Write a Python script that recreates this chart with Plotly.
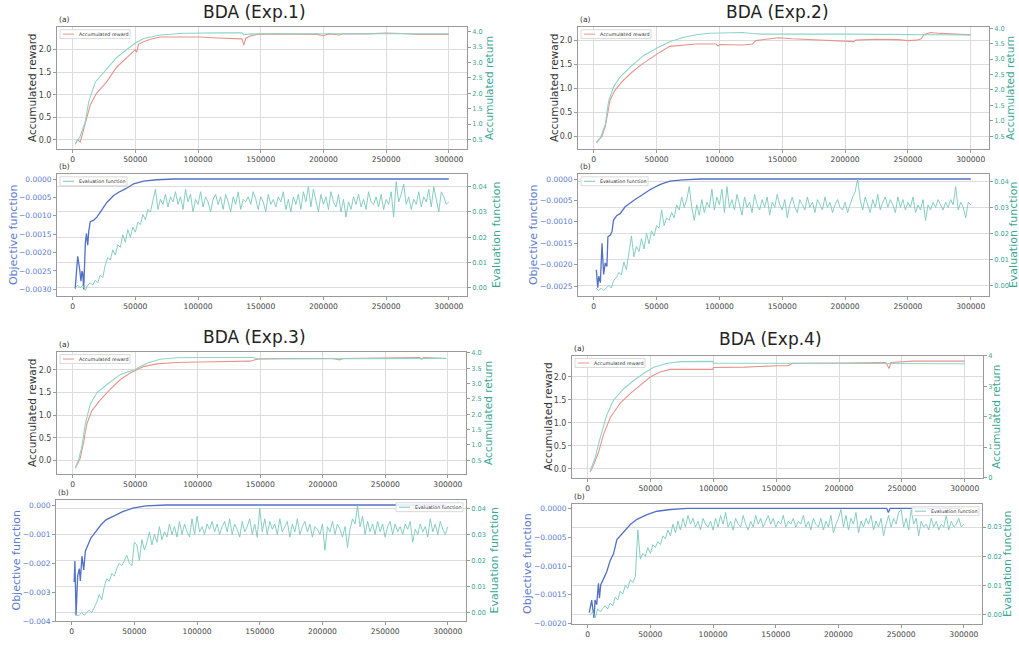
import plotly.graph_objects as go

# ---------------- data ----------------
steps = list(range(2000, 300001, 2000))
x_ticks = [0, 50000, 100000, 150000, 200000, 250000, 300000]

# Exp.1
e1_reward_x = [2000, 4000, 6000, 9000, 14000, 19000, 27000, 35000, 43000, 50000, 51000, 52600, 56000, 62000, 70000, 85000,
               102000, 115000, 128000, 135000, 136500, 138000, 141000, 147000, 160000, 180000, 195000, 200000, 204000,
               210000, 212000, 215000, 235000, 250000, 255000, 262000, 275000, 290000, 300000]
e1_reward_y = [-0.10, 0.0, -0.05, 0.26, 0.77, 1.03, 1.28, 1.61, 1.83, 2.00, 1.94, 2.12, 2.17, 2.23, 2.28, 2.28,
               2.28, 2.26, 2.24, 2.24, 2.10, 2.25, 2.30, 2.34, 2.35, 2.35, 2.34, 2.31, 2.35,
               2.34, 2.32, 2.35, 2.35, 2.37, 2.37, 2.36, 2.34, 2.35, 2.34]
e1_return_x = [2000, 6000, 10100, 12800, 18100, 27400, 35400, 43400, 50000, 56600, 70000, 88600, 100000, 120000,
               135000, 136500, 140000, 150000, 200000, 250000, 300000]
e1_return_y = [0.36, 0.61, 1.09, 1.73, 2.37, 2.80, 3.17, 3.43, 3.63, 3.78, 3.89, 3.95, 3.96, 3.96,
               3.96, 3.90, 3.92, 3.93, 3.93, 3.94, 3.93]
e1_obj_x = [2000, 4000, 5600, 6600, 7400, 8000, 8800, 10100, 11000, 12000, 12800, 14000, 16800, 19400, 22000, 24700,
            27400, 32700, 36700, 42000, 48700, 56600, 67300, 80600, 300000]
e1_obj_y = [-0.00298, -0.0021, -0.00246, -0.00278, -0.0025, -0.00255, -0.0030, -0.00175, -0.00148, -0.0018, -0.00143,
            -0.00116, -0.00112, -0.00103, -0.0009, -0.00076, -0.00063, -0.00045, -0.00036, -0.00027, -0.00013,
            -0.00006, -0.00002, 0.0, 0.0]
e1_eval = [0.000, 0.001, 0.000, 0.001, -0.001, 0.001, 0.002, 0.001, 0.003, 0.002,
           0.005, 0.004, 0.009, 0.012, 0.011, 0.015, 0.013, 0.017, 0.016, 0.021,
           0.018, 0.023, 0.020, 0.024, 0.022, 0.026, 0.025, 0.029, 0.027, 0.031,
           0.030, 0.034, 0.039, 0.031, 0.035, 0.033, 0.037, 0.032, 0.036, 0.034,
           0.038, 0.033, 0.036, 0.031, 0.039, 0.034, 0.037, 0.030, 0.035, 0.033,
           0.038, 0.032, 0.036, 0.034, 0.030, 0.035, 0.037, 0.033, 0.036, 0.031,
           0.037, 0.034, 0.030, 0.036, 0.033, 0.038, 0.031, 0.035, 0.034, 0.036,
           0.033, 0.038, 0.035, 0.031, 0.036, 0.034, 0.030, 0.037, 0.033, 0.035,
           0.032, 0.036, 0.034, 0.038, 0.031, 0.035, 0.030, 0.036, 0.033, 0.037,
           0.031, 0.038, 0.034, 0.040, 0.032, 0.039, 0.035, 0.030, 0.037, 0.033,
           0.036, 0.031, 0.038, 0.034, 0.032, 0.037, 0.030, 0.035, 0.028, 0.034,
           0.031, 0.036, 0.033, 0.037, 0.032, 0.035, 0.031, 0.038, 0.034, 0.033,
           0.036, 0.032, 0.037, 0.031, 0.035, 0.033, 0.038, 0.028, 0.042, 0.034,
           0.037, 0.041, 0.033, 0.036, 0.031, 0.035, 0.033, 0.038, 0.032, 0.036,
           0.034, 0.039, 0.032, 0.040, 0.035, 0.030, 0.038, 0.036, 0.033, 0.034]

# Exp.2
e2_reward_x = [2100, 4000, 6600, 9200, 11000, 13000, 17000, 22400, 29000, 36800, 44700, 52600, 60500, 71000, 81600,
               97400, 98700, 100500, 108000, 118400, 126300, 129000, 137000, 147000, 158000, 171000, 187000, 207000,
               208500, 224000, 242000, 250000, 256600, 259000, 260500, 263000, 268000, 276000, 288000, 300000]
e2_reward_y = [-0.14, -0.09, 0.0, 0.2, 0.51, 0.75, 0.96, 1.13, 1.30, 1.47, 1.61, 1.75, 1.87, 1.90, 1.92,
               1.92, 1.88, 1.91, 1.90, 1.90, 1.92, 1.99, 2.02, 2.05, 2.03, 2.01, 1.99, 1.97,
               2.0, 2.02, 2.01, 1.99, 2.0, 2.02, 2.03, 2.12, 2.16, 2.14, 2.12, 2.11]
e2_return_x = [2100, 5300, 9200, 11800, 15800, 21000, 29000, 39500, 50000, 60500, 71000, 81600, 92100, 118400,
               126300, 134200, 197400, 260500, 263200, 300000]
e2_return_y = [0.29, 0.45, 0.87, 1.62, 2.10, 2.42, 2.74, 3.11, 3.35, 3.56, 3.70, 3.79, 3.84, 3.86,
               3.83, 3.81, 3.81, 3.80, 3.78, 3.78]
e2_obj_x = [2100, 3200, 4000, 5300, 6600, 7900, 9200, 10500, 11300, 13200, 14500, 15800, 18400, 21000, 25000, 29000,
            32900, 38200, 44700, 52600, 60500, 71000, 85000, 300000]
e2_obj_y = [-0.00212, -0.00254, -0.00227, -0.00242, -0.0015, -0.00223, -0.00196, -0.00204, -0.00135, -0.00131,
            -0.00123, -0.00096, -0.00085, -0.00081, -0.00065, -0.00056, -0.00048, -0.00038, -0.00025, -0.00013,
            -0.00005, -0.00002, 0.0, 0.0]
e2_eval = [-0.001, -0.002, -0.001, -0.002, -0.001, 0.000, -0.001, 0.002, 0.003, 0.005,
           0.004, 0.009, 0.006, 0.012, 0.019, 0.011, 0.015, 0.013, 0.018, 0.014,
           0.020, 0.016, 0.021, 0.019, 0.023, 0.022, 0.029, 0.023, 0.026, 0.025,
           0.028, 0.026, 0.031, 0.029, 0.034, 0.030, 0.033, 0.038, 0.030, 0.025,
           0.031, 0.027, 0.033, 0.028, 0.032, 0.030, 0.037, 0.029, 0.034, 0.031,
           0.037, 0.028, 0.038, 0.030, 0.033, 0.029, 0.035, 0.031, 0.027, 0.034,
           0.030, 0.032, 0.028, 0.035, 0.031, 0.029, 0.033, 0.030, 0.034, 0.027,
           0.032, 0.030, 0.035, 0.031, 0.029, 0.033, 0.026, 0.031, 0.034, 0.030,
           0.028, 0.033, 0.031, 0.029, 0.034, 0.030, 0.032, 0.028, 0.033, 0.031,
           0.029, 0.034, 0.030, 0.032, 0.028, 0.031, 0.033, 0.030, 0.029, 0.032,
           0.028, 0.031, 0.034, 0.036, 0.041, 0.033, 0.029, 0.034, 0.031, 0.028,
           0.033, 0.030, 0.035, 0.029, 0.032, 0.034, 0.030, 0.033, 0.031, 0.028,
           0.034, 0.030, 0.033, 0.029, 0.032, 0.030, 0.034, 0.028, 0.031, 0.029,
           0.033, 0.025, 0.031, 0.029, 0.032, 0.030, 0.033, 0.031, 0.029, 0.032,
           0.030, 0.033, 0.031, 0.038, 0.029, 0.032, 0.030, 0.026, 0.032, 0.031]

# Exp.3
e3_reward_x = [2100, 3500, 6100, 8800, 11400, 15400, 22000, 30000, 38000, 46000, 50000, 56600, 67300, 83200, 101900,
               128500, 141800, 148400, 168400, 208200, 213600, 216000, 234800, 277400, 278700, 280500, 298700]
e3_reward_y = [-0.17, -0.09, 0.05, 0.41, 0.81, 1.10, 1.33, 1.57, 1.78, 1.93, 1.98, 2.07, 2.13, 2.16, 2.17,
               2.19, 2.19, 2.24, 2.25, 2.25, 2.22, 2.25, 2.26, 2.27, 2.23, 2.27, 2.25]
e3_return_x = [2100, 4800, 7400, 10100, 14100, 19400, 27400, 38000, 50000, 59300, 69900, 83200, 101900, 144400,
               148400, 298700]
e3_return_y = [0.26, 0.52, 0.95, 1.69, 2.33, 2.70, 2.97, 3.29, 3.47, 3.66, 3.79, 3.84, 3.85, 3.85, 3.80, 3.82]
e3_obj_x = [2000, 2600, 3500, 4800, 6100, 6900, 8200, 9600, 10900, 12800, 15400, 19400, 23400, 27400, 34000, 40700,
            48700, 59300, 75300, 298700]
e3_obj_y = [-0.00265, -0.00193, -0.0038, -0.00244, -0.00219, -0.00261, -0.00176, -0.00223, -0.00159, -0.00142,
            -0.00113, -0.00091, -0.00068, -0.00051, -0.00036, -0.00023, -0.00011, -0.00003, 0.0, 0.0]
e3_eval = [0.000, -0.001, -0.001, 0.000, -0.001, 0.000, 0.001, 0.000, 0.002, 0.004,
           0.007, 0.005, 0.010, 0.013, 0.012, 0.015, 0.014, 0.017, 0.019, 0.018,
           0.020, 0.022, 0.019, 0.018, 0.027, 0.026, 0.020, 0.028, 0.024, 0.027,
           0.031, 0.026, 0.030, 0.027, 0.033, 0.028, 0.031, 0.029, 0.034, 0.030,
           0.033, 0.029, 0.035, 0.030, 0.034, 0.031, 0.029, 0.036, 0.030, 0.037,
           0.031, 0.033, 0.030, 0.034, 0.032, 0.035, 0.031, 0.034, 0.030, 0.033,
           0.035, 0.031, 0.036, 0.030, 0.034, 0.032, 0.029, 0.035, 0.031, 0.033,
           0.036, 0.030, 0.034, 0.029, 0.040, 0.031, 0.036, 0.030, 0.035, 0.032,
           0.034, 0.030, 0.036, 0.031, 0.033, 0.035, 0.029, 0.034, 0.031, 0.036,
           0.030, 0.033, 0.035, 0.031, 0.034, 0.029, 0.033, 0.032, 0.030, 0.034,
           0.024, 0.033, 0.031, 0.035, 0.030, 0.034, 0.032, 0.029, 0.033, 0.025,
           0.032, 0.036, 0.034, 0.041, 0.033, 0.037, 0.030, 0.035, 0.031, 0.034,
           0.030, 0.035, 0.031, 0.034, 0.029, 0.033, 0.035, 0.030, 0.034, 0.031,
           0.033, 0.030, 0.034, 0.032, 0.035, 0.027, 0.032, 0.030, 0.034, 0.031,
           0.033, 0.029, 0.036, 0.031, 0.034, 0.030, 0.035, 0.032, 0.030, 0.033]

# Exp.4
e4_reward_x = [1900, 4500, 8600, 12600, 17900, 25900, 34000, 42000, 50000, 58000, 66000, 82000, 99500, 100000, 124900,
               151600, 159600, 162300, 178300, 205100, 237200, 239800, 241200, 258600, 300000]
e4_reward_y = [-0.07, 0.07, 0.36, 0.75, 1.11, 1.43, 1.64, 1.82, 2.00, 2.11, 2.16, 2.16, 2.16, 2.20, 2.21,
               2.24, 2.24, 2.29, 2.29, 2.30, 2.31, 2.18, 2.31, 2.34, 2.34]
e4_return_x = [1900, 5900, 9900, 15200, 20600, 28600, 36600, 44700, 52700, 63400, 74100, 87400, 99500, 100000, 151600,
               205000, 300000]
e4_return_y = [0.20, 0.65, 1.30, 2.06, 2.55, 2.92, 3.19, 3.43, 3.63, 3.76, 3.81, 3.82, 3.82, 3.76, 3.75, 3.75, 3.74]
e4_obj_x = [1300, 3200, 4000, 5100, 5900, 7200, 8600, 9400, 10400, 12600, 15200, 17900, 20600, 23300, 25900, 29900,
            34000, 39300, 47300, 55300, 66000, 79400, 238500, 239800, 241200, 300000]
e4_obj_y = [-0.00181, -0.00159, -0.00173, -0.0019, -0.00159, -0.00167, -0.0013, -0.00156, -0.00133, -0.00122,
            -0.0011, -0.00091, -0.00079, -0.00054, -0.00048, -0.00037, -0.00028, -0.00019, -0.00011, -0.00005,
            -0.00002, 0.0, 0.0, -0.00007, 0.0, 0.0]
e4_eval = [0.000, 0.001, -0.001, 0.002, 0.001, 0.002, 0.003, 0.002, 0.004, 0.003,
           0.006, 0.005, 0.008, 0.007, 0.010, 0.009, 0.012, 0.011, 0.013, 0.029,
           0.019, 0.021, 0.020, 0.023, 0.021, 0.024, 0.023, 0.025, 0.024, 0.027,
           0.026, 0.029, 0.027, 0.031, 0.028, 0.032, 0.029, 0.033, 0.030, 0.034,
           0.031, 0.033, 0.030, 0.032, 0.029, 0.033, 0.031, 0.030, 0.032, 0.029,
           0.033, 0.030, 0.034, 0.031, 0.035, 0.030, 0.032, 0.029, 0.033, 0.031,
           0.030, 0.034, 0.031, 0.029, 0.032, 0.030, 0.034, 0.031, 0.033, 0.030,
           0.032, 0.034, 0.031, 0.033, 0.030, 0.032, 0.031, 0.034, 0.030, 0.032,
           0.031, 0.033, 0.030, 0.032, 0.031, 0.034, 0.030, 0.032, 0.029, 0.033,
           0.031, 0.030, 0.033, 0.029, 0.032, 0.030, 0.034, 0.028, 0.031, 0.033,
           0.036, 0.030, 0.034, 0.029, 0.033, 0.031, 0.035, 0.028, 0.032, 0.030,
           0.033, 0.031, 0.034, 0.029, 0.032, 0.030, 0.033, 0.027, 0.031, 0.034,
           0.030, 0.033, 0.031, 0.035, 0.036, 0.030, 0.033, 0.029, 0.036, 0.031,
           0.033, 0.027, 0.032, 0.030, 0.031, 0.029, 0.033, 0.030, 0.032, 0.029,
           0.031, 0.030, 0.034, 0.029, 0.032, 0.030, 0.031, 0.033, 0.030, 0.031]

titles = ["BDA (Exp.1)", "BDA (Exp.2)", "BDA (Exp.3)", "BDA (Exp.4)"]

ticks_a_left = [0.0, 0.5, 1.0, 1.5, 2.0]
ticks_a_right = [0.5, 1.0, 1.5, 2.0, 2.5, 3.0, 3.5, 4.0]
ticks_a_right_4 = [0, 1, 2, 3, 4]
ticks_b_left_1 = [-0.003, -0.0025, -0.002, -0.0015, -0.001, -0.0005, 0.0]
ticks_b_left_2 = [-0.0025, -0.002, -0.0015, -0.001, -0.0005, 0.0]
ticks_b_left_3 = [-0.004, -0.003, -0.002, -0.001, 0.0]
ticks_b_left_4 = [-0.002, -0.0015, -0.001, -0.0005, 0.0]
ticks_b_right = [0.0, 0.01, 0.02, 0.03, 0.04]
ticks_b_right_4 = [0.0, 0.01, 0.02, 0.03]

# ---------------- style ----------------
W, H = 1019, 648
FONT = "DejaVu Sans"
RED = "#e8938d"
TEAL_A = "#8dd5c8"
BLUE = "#5270c6"
TEAL_B = "#78c8ba"
TEAL_TXT = "#3ba795"
BLUE_TXT = "#5b7ccf"
GRID = "#dcdcdc"
FRAME = "#9a9a9a"
TICK_TXT = "#444444"
XR = [-12500, 314500]

def px(p):
    return p / W

def py(p):
    return 1 - p / H

def yid(n):
    return "y" if n == 1 else f"y{n}"

def xid(n):
    return "x" if n == 1 else f"x{n}"

# box: plot-area pixels (x0, x1, y0, y1); ltx / rtx: axis-title centre x in pixels
specs = [
    dict(box=(57, 467, 24, 148), kind="a", s=(e1_reward_x, e1_reward_y, e1_return_x, e1_return_y),
         lr=[-0.21, 2.51], rr=[0.19, 4.16], lt=ticks_a_left, lf=".1f", rt=ticks_a_right, rf=".1f", leg="left",
         ltx=32, rtx=489),
    dict(box=(57, 467, 173, 297), kind="b", s=(e1_obj_x, e1_obj_y, steps, e1_eval),
         lr=[-0.00319, 0.00014], rr=[-0.0034, 0.0451], lt=ticks_b_left_1, lf=".4f", rt=ticks_b_right, rf=".2f",
         leg="left", ltx=13, rtx=496),
    dict(box=(578, 989, 24, 148), kind="a", s=(e2_reward_x, e2_reward_y, e2_return_x, e2_return_y),
         lr=[-0.27, 2.28], rr=[0.08, 4.05], lt=ticks_a_left, lf=".1f", rt=ticks_a_right, rf=".1f", leg="left",
         ltx=554, rtx=1010),
    dict(box=(578, 989, 173, 297), kind="b", s=(e2_obj_x, e2_obj_y, steps, e2_eval),
         lr=[-0.00274, 0.00012], rr=[-0.0042, 0.0429], lt=ticks_b_left_2, lf=".4f", rt=ticks_b_right, rf=".2f",
         leg="left", ltx=533, rtx=1013),
    dict(box=(57, 466, 353, 477), kind="a", s=(e3_reward_x, e3_reward_y, e3_return_x, e3_return_y),
         lr=[-0.30, 2.40], rr=[0.05, 4.04], lt=ticks_a_left, lf=".1f", rt=ticks_a_right, rf=".1f", leg="left",
         ltx=32, rtx=488),
    dict(box=(56, 466, 503, 626), kind="b", s=(e3_obj_x, e3_obj_y, steps, e3_eval),
         lr=[-0.0040, 0.00018], rr=[-0.0033, 0.0433], lt=ticks_b_left_3, lf=".3f", rt=ticks_b_right, rf=".2f",
         leg="right", ltx=17, rtx=495),
    dict(box=(572, 983, 357, 481), kind="a", s=(e4_reward_x, e4_reward_y, e4_return_x, e4_return_y),
         lr=[-0.20, 2.46], rr=[-0.02, 4.01], lt=ticks_a_left, lf=".1f", rt=ticks_a_right_4, rf="d", leg="left",
         ltx=548, rtx=996),
    dict(box=(572, 982, 507, 629), kind="b", s=(e4_obj_x, e4_obj_y, steps, e4_eval),
         lr=[-0.00201, 0.00008], rr=[-0.0033, 0.038], lt=ticks_b_left_4, lf=".4f", rt=ticks_b_right_4, rf=".2f",
         leg="right", ltx=528, rtx=1008),
]

fig = go.Figure()
layout = dict(width=W, height=H, margin=dict(l=0, r=0, t=0, b=0), paper_bgcolor="white", plot_bgcolor="white",
              showlegend=False, font=dict(family=FONT, color=TICK_TXT))
shapes = []
annotations = []

for k, sp in enumerate(specs, start=1):
    x0, x1, y0, y1 = sp["box"]
    a = sp["kind"] == "a"
    xl = xid(k)
    yl = yid(2 * k - 1)
    yr = yid(2 * k)
    lx, ly, rx, ry = sp["s"]
    if a:
        fig.add_trace(go.Scatter(x=lx, y=ly, mode="lines", name="Accumulated reward",
                                 line=dict(color=RED, width=1.1), xaxis=xl, yaxis=yl))
        fig.add_trace(go.Scatter(x=rx, y=ry, mode="lines", name="Accumulated return",
                                 line=dict(color=TEAL_A, width=1.1), xaxis=xl, yaxis=yr))
    else:
        fig.add_trace(go.Scatter(x=lx, y=ly, mode="lines", name="Objective function",
                                 line=dict(color=BLUE, width=1.3), xaxis=xl, yaxis=yl))
        fig.add_trace(go.Scatter(x=rx, y=ry, mode="lines", name="Evaluation function",
                                 line=dict(color=TEAL_B, width=0.9), xaxis=xl, yaxis=yr))

    xkey = "xaxis" if k == 1 else f"xaxis{k}"
    ylkey = "yaxis" if 2 * k - 1 == 1 else f"yaxis{2 * k - 1}"
    yrkey = f"yaxis{2 * k}"
    common = dict(showline=True, linecolor=FRAME, linewidth=1, ticks="outside", ticklen=3, tickcolor=FRAME,
                  zeroline=False, gridcolor=GRID, gridwidth=0.8)
    layout[xkey] = dict(domain=[px(x0), px(x1)], anchor=yl, range=XR, tickvals=x_ticks,
                        ticktext=[str(v) for v in x_ticks], mirror=True, showgrid=a,
                        tickfont=dict(size=7.6, color=TICK_TXT), **common)
    layout[ylkey] = dict(domain=[py(y1), py(y0)], anchor=xl, range=sp["lr"], tickvals=sp["lt"], tickformat=sp["lf"],
                         mirror=True, showgrid=a,
                         tickfont=dict(size=8 if a else 7.5, color=TICK_TXT if a else BLUE_TXT), **common)
    layout[yrkey] = dict(overlaying=yl, side="right", anchor=xl, range=sp["rr"], tickvals=sp["rt"],
                         tickformat=sp["rf"], showgrid=not a,
                         tickfont=dict(size=6.6, color=TEAL_TXT), **common)

    # axis titles (rotated text)
    ymid = py((y0 + y1) / 2)
    annotations.append(dict(text="Accumulated reward" if a else "Objective function", textangle=-90,
                            x=px(sp["ltx"]), y=ymid, xref="paper", yref="paper", xanchor="center",
                            yanchor="middle", showarrow=False,
                            font=dict(size=10.5 if a else 11, color="#333333" if a else BLUE_TXT)))
    annotations.append(dict(text="Accumulated return" if a else "Evaluation function", textangle=-90,
                            x=px(sp["rtx"]), y=ymid, xref="paper", yref="paper", xanchor="center",
                            yanchor="middle", showarrow=False,
                            font=dict(size=10.5 if a else 11, color=TEAL_TXT)))

    annotations.append(dict(text="(a)" if a else "(b)", x=px(x0), y=py(y0 - 1), xref="paper", yref="paper",
                            xanchor="left", yanchor="bottom", showarrow=False, font=dict(size=7.5, color="#333333")))

    label = "Accumulated reward" if a else "Evaluation function"
    col = RED if a else TEAL_B
    bw = 70 if a else 67
    if sp["leg"] == "left":
        bx0 = x0 + 3
    else:
        bx0 = x1 - 3 - bw
    by0, by1 = y0 + 3, y0 + 12
    shapes.append(dict(type="rect", xref="paper", yref="paper", x0=px(bx0), x1=px(bx0 + bw), y0=py(by1), y1=py(by0),
                       line=dict(color="#d0d0d0", width=0.8), fillcolor="rgba(255,255,255,0.85)", layer="above"))
    shapes.append(dict(type="line", xref="paper", yref="paper", x0=px(bx0 + 3), x1=px(bx0 + 14),
                       y0=py((by0 + by1) / 2), y1=py((by0 + by1) / 2), line=dict(color=col, width=1), layer="above"))
    annotations.append(dict(text=label, x=px(bx0 + 17), y=py((by0 + by1) / 2), xref="paper", yref="paper",
                            xanchor="left", yanchor="middle", showarrow=False, font=dict(size=4.8, color="#333333")))

title_pos = [(255, 9), (777, 9), (254, 338), (770, 340)]
for t, (tx, ty) in zip(titles, title_pos):
    annotations.append(dict(text=t, x=px(tx), y=py(ty), xref="paper", yref="paper", xanchor="center",
                            yanchor="middle", showarrow=False, font=dict(size=17, color="#222222")))

layout["shapes"] = shapes
layout["annotations"] = annotations
fig.update_layout(**layout)
fig.write_html("out.html")
